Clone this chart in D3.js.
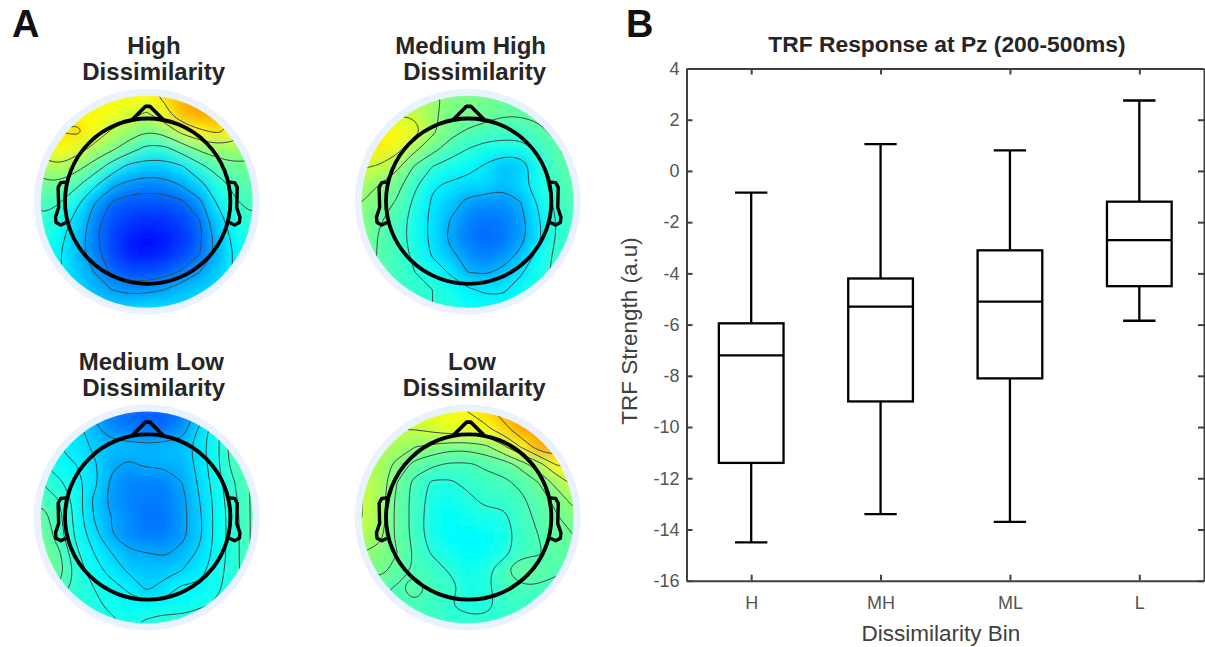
<!DOCTYPE html>
<html>
<head>
<meta charset="utf-8">
<script src="https://cdn.jsdelivr.net/npm/d3@7"></script>
<style>
html,body{margin:0;padding:0;background:#fff;}
svg{display:block;font-family:"Liberation Sans",Arial,sans-serif;}
</style>
</head>
<body>
<div id="chart"></div>
<script>
// panel B values
var bins=['H','MH','ML','L'];
var whiskerHigh=[-0.85,1.05,0.8,2.75];
var q3=[-5.95,-4.2,-3.1,-1.2];
var medians=[-7.2,-5.3,-5.1,-2.7];
var q1=[-11.4,-9,-8.1,-4.5];
var whiskerLow=[-14.5,-13.4,-13.7,-5.85];
var yTicks=[4,2,0,-2,-4,-6,-8,-10,-12,-14,-16];

// panel A scalp maps, read by eye on a 13x13 grid (0 = blue, 90 = orange)
var mapTitles=[['High','Dissimilarity'],['Medium High','Dissimilarity'],['Medium Low','Dissimilarity'],['Low','Dissimilarity']];
var titleRight=[225,546,224,546];
var titleCentre=[154,546,224,472];
var gridHigh=[
[72,72,72,72,74,76,75,80,88,90,84,72,72],
[75,75,75,76,74,70,66,74,86,92,90,78,70],
[76,78,80,74,66,62,56,60,70,76,80,74,66],
[72,76,72,64,58,50,42,42,50,58,62,62,60],
[62,66,60,52,40,30,28,28,32,42,50,54,54],
[54,54,48,36,24,20,18,19,23,30,40,48,50],
[48,46,36,23,15,12,12,12,14,20,34,44,48],
[44,40,30,18,11,8,6,7,9,15,28,40,44],
[40,36,27,17,9,4,2,3,7,13,25,36,40],
[38,34,26,18,10,4,3,5,9,15,24,34,38],
[36,34,28,22,14,10,10,12,16,22,28,34,36],
[36,34,30,26,22,20,20,22,26,28,30,34,36],
[36,34,32,30,28,28,30,30,30,32,34,36,36]];
var gridMediumHigh=[
[60,62,64,64,62,58,56,56,54,54,54,54,54],
[64,68,68,68,62,56,56,54,52,52,52,52,52],
[74,76,76,72,62,54,50,48,46,46,50,52,54],
[76,78,72,62,54,47,42,38,38,38,44,50,54],
[70,68,62,50,42,38,36,32,26,28,38,48,52],
[64,60,54,44,34,32,30,30,26,30,38,46,50],
[60,56,50,40,32,28,22,20,20,24,34,44,50],
[58,52,47,38,31,24,18,16,17,21,32,42,46],
[58,50,46,38,31,22,17,14,16,21,31,42,46],
[56,50,46,40,32,26,20,17,19,26,35,44,46],
[54,50,46,42,38,32,24,23,26,32,38,44,46],
[52,50,46,44,42,38,34,32,32,36,40,44,46],
[50,48,46,44,42,40,36,36,36,38,42,44,46]];
var gridMediumLow=[
[30,28,26,22,17,14,12,12,16,26,36,44,50],
[36,34,32,25,19,17,15,16,20,30,38,46,52],
[36,34,32,28,26,26,25,26,26,32,38,48,52],
[40,36,34,30,24,22,24,24,25,31,38,47,52],
[44,40,36,31,22,18,18,18,23,30,37,44,50],
[48,44,37,28,21,18,17,17,21,29,36,43,50],
[52,46,37,29,23,19,16,16,21,28,36,42,50],
[54,46,38,31,23,19,17,17,21,28,36,42,50],
[56,50,40,34,29,24,23,22,25,30,36,42,50],
[56,52,42,36,32,28,27,27,29,32,37,42,50],
[52,48,42,39,36,33,28,31,35,35,38,42,46],
[44,42,42,40,38,36,36,36,36,38,40,42,44],
[40,40,40,40,40,38,40,42,42,44,44,44,44]];
var gridLow=[
[68,68,70,72,72,74,76,80,88,92,88,78,74],
[68,68,68,68,70,72,72,74,80,90,94,88,74],
[68,66,64,60,58,56,56,58,66,76,88,92,84],
[68,64,58,52,49,47,47,49,50,56,64,76,78],
[68,64,54,46,41,41,44,46,47,49,54,62,70],
[68,64,52,46,39,37,40,44,44,47,50,56,62],
[68,64,52,46,38,36,38,39,40,46,49,53,58],
[66,62,52,46,38,35,34,35,38,45,48,52,54],
[60,58,54,47,41,38,35,36,39,46,47,51,52],
[56,56,52,47,46,41,38,40,47,53,52,49,48],
[50,50,47,52,46,45,39,40,46,47,47,46,46],
[48,48,47,47,46,42,40,40,44,46,46,46,46],
[48,48,48,46,46,44,44,44,44,46,46,46,46]];
var mapGrids=[gridHigh,gridMediumHigh,gridMediumLow,gridLow];
var mapLevels=[
[15,22,33,45,56,67,78],
[24,33,42,51,60,69],
[23,29,34,39,44,49,55],
[42,48,54,60,68,76,84]];
var colorStops=[0,35,50,65,75,90];
var colorValues=['#0000ff','#00ffff','#55ffaa','#aaff55','#ffff00','#ffa000'];

var width=1205,height=647;
var svg=d3.select('#chart').append('svg').attr('width',width).attr('height',height);
var color=d3.scaleLinear().domain(colorStops).range(colorValues).clamp(true);

var defs=svg.append('defs');
defs.append('filter').attr('id','soft')
  .attr('x','-10%').attr('y','-10%').attr('width','120%').attr('height','120%')
  .append('feGaussianBlur').attr('stdDeviation',7);

var mapCx=[146.7,467.7,146.7,467.7],mapCy=[201.7,201.7,517.5,517.5];
var discR=106,ringR=113,n=13,span=1.08;

mapGrids.forEach(function(grid,m){
  var g=svg.append('g').attr('transform','translate('+mapCx[m]+','+mapCy[m]+')');
  var u=d3.scaleLinear().domain([-1,1]).range([-discR,discR]);
  var gx=d3.scaleLinear().domain([0,n]).range([u(-span),u(span)]);
  var gy=d3.scaleLinear().domain([0,n]).range([u(-span),u(span)]);

  g.append('circle').attr('r',ringR).attr('fill','#e9f2fe');
  defs.append('clipPath').attr('id','disc'+m).append('circle').attr('r',discR);

  var clipped=g.append('g').attr('clip-path','url(#disc'+m+')');
  var cells=[];
  grid.forEach(function(row,r){row.forEach(function(v,c){cells.push({r:r,c:c,v:v});});});
  clipped.append('g').attr('filter','url(#soft)').selectAll('rect').data(cells).join('rect')
    .attr('x',function(d){return gx(d.c);})
    .attr('y',function(d){return gy(d.r);})
    .attr('width',gx(1)-gx(0)+0.5)
    .attr('height',gy(1)-gy(0)+0.5)
    .attr('fill',function(d){return color(d.v);});

  // iso lines from the same grid
  var contours=d3.contours().size([n,n]).thresholds(mapLevels[m])(d3.merge(grid));
  var ringPath=d3.line().x(function(p){return gx(p[0]);}).y(function(p){return gy(p[1]);}).curve(d3.curveBasisClosed);
  contours.forEach(function(c){
    c.coordinates.forEach(function(poly){
      poly.forEach(function(ring){
        clipped.append('path').attr('d',ringPath(ring.slice(0,-1)))
          .attr('fill','none').attr('stroke','#3c4a4a').attr('stroke-width',1);
      });
    });
  });

  // head outline
  var head=g.append('g').attr('transform','translate(1,-0.5)').attr('fill','none').attr('stroke','#000');
  head.append('path').attr('d',d3.line()([[u(-0.145),u(-0.77)],[u(-0.02),u(-0.895)],[u(0.02),u(-0.895)],[u(0.145),u(-0.77)]]))
    .attr('stroke-width',3.6).attr('stroke-linejoin','round');
  [-1,1].forEach(function(side){
    var ear=d3.line()([
      [u(side*0.77),u(-0.18)],[u(side*0.82),u(-0.175)],[u(side*0.845),u(-0.13)],[u(side*0.84),u(0.06)],
      [u(side*0.87),u(0.15)],[u(side*0.865),u(0.2)],[u(side*0.82),u(0.225)],[u(side*0.77),u(0.2)]]);
    head.append('path').attr('d',ear).attr('stroke-width',3.4).attr('stroke-linejoin','round');
  });
  head.append('circle').attr('r',u(0.78)).attr('stroke-width',3.8);

  // title, first line of High and Low is centred over the second
  mapTitles[m].forEach(function(line,i){
    var centred=i==0&&(m==0||m==3);
    g.append('text')
      .attr('x',(i==1?titleRight[m]-(m==3?0.5:0)+(m==2?1:0):(centred?titleCentre[m]:titleRight[m]))-mapCx[m])
      .attr('y',(m<2?54:370)+i*25.7-mapCy[m])
      .attr('font-size',24).attr('font-weight','bold').attr('fill','#262626')
      .attr('text-anchor',centred?'middle':'end')
      .text(line);
  });
});

svg.append('text').attr('x',12).attr('y',37).attr('font-size',38).attr('font-weight','bold').attr('fill','#111').text('A');
svg.append('text').attr('x',626).attr('y',37).attr('font-size',38).attr('font-weight','bold').attr('fill','#111').text('B');

// panel B
var left=686.5,right=1204,top_=68.5,bottom=580.7;
var x=d3.scalePoint().domain(bins).range([left,right]).padding(0.5);
var y=d3.scaleLinear().domain([-16,4]).range([bottom,top_]);
var step=x.step();

function axisStyle(a){
  a.selectAll('path.domain').attr('stroke','#404040').attr('stroke-width',2);
  a.selectAll('.tick line').attr('stroke','#404040').attr('stroke-width',2);
  a.selectAll('text').attr('font-family','"Liberation Sans",Arial,sans-serif').attr('font-size',18).attr('fill','#555');
}
svg.append('g').attr('transform','translate(0,'+bottom+')')
  .call(d3.axisBottom(x).tickSizeInner(-6).tickSizeOuter(0).tickPadding(15.5)).call(axisStyle);
svg.append('g').attr('transform','translate(0,'+top_+')')
  .call(d3.axisTop(x).tickSizeInner(-6).tickSizeOuter(0).tickFormat('')).call(axisStyle);
svg.append('g').attr('transform','translate('+left+',0)')
  .call(d3.axisLeft(y).tickValues(yTicks).tickSizeInner(-6).tickSizeOuter(0).tickPadding(7).tickFormat(String)).call(axisStyle);
svg.append('g').attr('transform','translate('+right+',0)')
  .call(d3.axisRight(y).tickValues(yTicks).tickSizeInner(-6).tickSizeOuter(0).tickFormat('')).call(axisStyle);

var boxes=svg.append('g').selectAll('g').data(bins).join('g')
  .attr('fill','none').attr('stroke','#000').attr('stroke-width',2.3);
boxes.append('line').attr('x1',function(d){return x(d);}).attr('x2',function(d){return x(d);})
  .attr('y1',function(d,i){return y(whiskerHigh[i]);}).attr('y2',function(d,i){return y(q3[i]);});
boxes.append('line').attr('x1',function(d){return x(d);}).attr('x2',function(d){return x(d);})
  .attr('y1',function(d,i){return y(q1[i]);}).attr('y2',function(d,i){return y(whiskerLow[i]);});
[whiskerHigh,whiskerLow].forEach(function(w){
  boxes.append('line').attr('x1',function(d){return x(d)-step/8;}).attr('x2',function(d){return x(d)+step/8;})
    .attr('y1',function(d,i){return y(w[i]);}).attr('y2',function(d,i){return y(w[i]);});
});
boxes.append('rect').attr('x',function(d){return x(d)-step/4;}).attr('width',step/2)
  .attr('y',function(d,i){return y(q3[i]);}).attr('height',function(d,i){return y(q1[i])-y(q3[i]);});
boxes.append('line').attr('x1',function(d){return x(d)-step/4;}).attr('x2',function(d){return x(d)+step/4;})
  .attr('y1',function(d,i){return y(medians[i]);}).attr('y2',function(d,i){return y(medians[i]);});

svg.append('text').attr('x',947).attr('y',52).attr('text-anchor','middle')
  .attr('font-size',22.8).attr('font-weight','bold').attr('fill','#262626').text('TRF Response at Pz (200-500ms)');
svg.append('text').attr('x',941).attr('y',641).attr('text-anchor','middle')
  .attr('font-size',22.5).attr('fill','#404040').text('Dissimilarity Bin');
svg.append('text').attr('transform','translate(637,331) rotate(-90)').attr('text-anchor','middle')
  .attr('font-size',22.5).attr('fill','#404040').text('TRF Strength (a.u)');
</script>
</body>
</html>
